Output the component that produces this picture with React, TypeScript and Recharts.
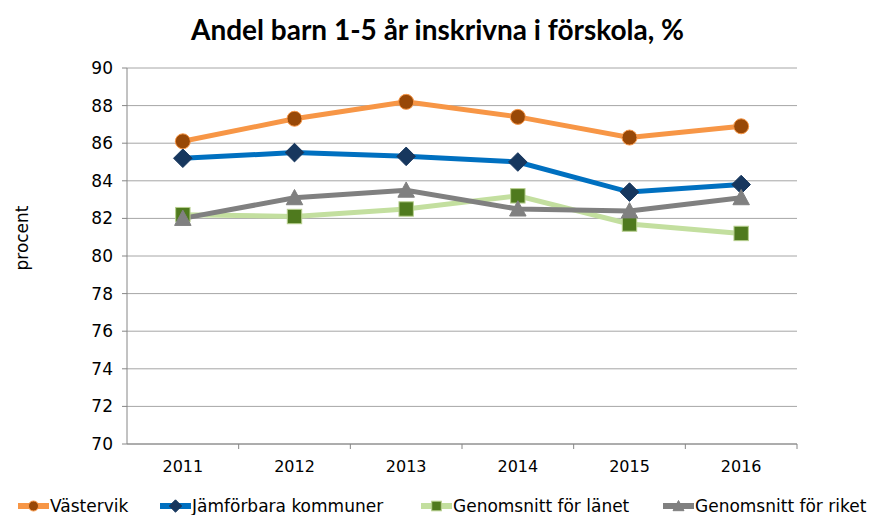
import React from 'react';
import { LineChart, Line, XAxis, YAxis, CartesianGrid, Legend, Label } from 'recharts';

const years = ['2011', '2012', '2013', '2014', '2015', '2016'];
const vastervik = [86.1, 87.3, 88.2, 87.4, 86.3, 86.9];
const jamforbara = [85.2, 85.5, 85.3, 85.0, 83.4, 83.8];
const lanet = [82.2, 82.1, 82.5, 83.2, 81.7, 81.2];
const riket = [82.0, 83.1, 83.5, 82.5, 82.4, 83.1];
const yTicks = [70, 72, 74, 76, 78, 80, 82, 84, 86, 88, 90];
const seriesNames = ['Västervik', 'Jämförbara kommuner', 'Genomsnitt för länet', 'Genomsnitt för riket'];
const titleText = 'Andel barn 1-5 år inskrivna i förskola, %';
const yLabelText = 'procent';

const W = 875;
const H = 515;
const M = { top: 68, right: 78, bottom: 13, left: 0 };
const Y_W = 127;
const PLOT_W = W - M.right - Y_W;
const BAND = PLOT_W / years.length;
const FONT = '"DejaVu Sans", Verdana, sans-serif';
const AXIS = '#868686';

const chartData = years.map((y, i) => ({
  year: y,
  v: vastervik[i],
  j: jamforbara[i],
  l: lanet[i],
  r: riket[i],
}));

type Shape = 'circle' | 'diamond' | 'square' | 'triangle';
const styles: { key: string; name: string; line: string; fill: string; mstroke: string; shape: Shape }[] = [
  { key: 'v', name: seriesNames[0], line: '#F79646', fill: '#984807', mstroke: '#F79646', shape: 'circle' },
  { key: 'j', name: seriesNames[1], line: '#0070C0', fill: '#17375E', mstroke: '#17375E', shape: 'diamond' },
  { key: 'l', name: seriesNames[2], line: '#C3DF9F', fill: '#4F7A1E', mstroke: '#B7CF8E', shape: 'square' },
  { key: 'r', name: seriesNames[3], line: '#808080', fill: '#808080', mstroke: '#808080', shape: 'triangle' },
];

function marker(shape: Shape, cx: number, cy: number, s: number, fill: string, stroke: string, key?: any) {
  if (shape === 'circle') return <circle key={key} cx={cx} cy={cy} r={s * 0.5} fill={fill} stroke={stroke} strokeWidth={1} />;
  if (shape === 'diamond') {
    const h = s * 0.62;
    return <polygon key={key} points={`${cx},${cy - h} ${cx + h},${cy} ${cx},${cy + h} ${cx - h},${cy}`} fill={fill} stroke={stroke} strokeWidth={1} />;
  }
  if (shape === 'square') {
    const h = s * 0.48;
    return <rect key={key} x={cx - h} y={cy - h} width={2 * h} height={2 * h} fill={fill} stroke={stroke} strokeWidth={1} />;
  }
  const h = s * 0.55;
  return <polygon key={key} points={`${cx},${cy - h} ${cx + h},${cy + h * 0.85} ${cx - h},${cy + h * 0.85}`} fill={fill} stroke={stroke} strokeWidth={1} />;
}

const makeDot = (st: typeof styles[number]) => (props: any) => {
  const { cx, cy, index } = props;
  if (cx == null || cy == null) return <g key={index} />;
  return marker(st.shape, cx, cy, 15, st.fill, st.mstroke, `${st.key}-${index}`);
};

const XTick = (props: any) => {
  const { x, y, payload } = props;
  return (
    <g>
      <line x1={x + BAND / 2} x2={x + BAND / 2} y1={y} y2={y + 5} stroke={AXIS} strokeWidth={1} />
      <text x={x} y={y} dy={28} textAnchor="middle" fontSize={16} fontFamily={FONT} fill="#000">
        {payload.value}
      </text>
    </g>
  );
};

const legendPos = [18, 160, 421, 663];

const LegendContent = () => (
  <div style={{ position: 'relative', width: W, height: 24, fontFamily: FONT, fontSize: 17, color: '#000' }}>
    {styles.map((st, i) => (
      <div key={st.key} style={{ position: 'absolute', left: legendPos[i], top: 1, height: 24, display: 'flex', alignItems: 'center', whiteSpace: 'nowrap' }}>
        <svg width={31} height={24} style={{ marginRight: 1 }}>
          <line x1={0} x2={31} y1={12} y2={12} stroke={st.line} strokeWidth={6} />
          {marker(st.shape, 15.5, 12, 10, st.fill, st.mstroke)}
        </svg>
        <span>{st.name}</span>
      </div>
    ))}
  </div>
);

export default function App() {
  return (
    <div style={{ position: 'absolute', left: 0, top: 0, width: W, height: H, background: '#fff' }}>
      <div style={{ position: 'absolute', left: 0, top: 12, width: W, textAlign: 'center', fontFamily: 'Lato, "Open Sans", sans-serif', fontWeight: 'bold', fontSize: 28, color: '#000', zIndex: 2 }}>
        {titleText}
      </div>
      <LineChart width={W} height={H} data={chartData} margin={M}>
        <CartesianGrid horizontal vertical={false} stroke="#A6A6A6" strokeWidth={1} />
        <XAxis
          dataKey="year"
          scale="band"
          tick={<XTick />}
          tickLine={false}
          tickSize={0}
          tickMargin={0}
          height={34}
          axisLine={{ stroke: AXIS }}
          interval={0}
        />
        <YAxis
          width={Y_W}
          domain={[70, 90]}
          ticks={yTicks}
          interval={0}
          tickSize={5}
          tickMargin={9}
          tickLine={{ stroke: AXIS }}
          axisLine={{ stroke: AXIS }}
          tick={{ fontSize: 17, fontFamily: FONT, fill: '#000' }}
        >
          <Label
            content={(p: any) => {
              const vb = p.viewBox || { x: 0, y: 68, height: 375 };
              const cx = 22;
              const cy = vb.y + vb.height / 2 - 18;
              return (
                <text x={cx} y={cy} transform={`rotate(-90 ${cx} ${cy})`} textAnchor="middle" dominantBaseline="central" fontSize={17} fontFamily={FONT} fill="#000">
                  {yLabelText}
                </text>
              );
            }}
          />
        </YAxis>
        <Legend content={<LegendContent />} verticalAlign="bottom" height={24} wrapperStyle={{ left: 0, bottom: -2, width: W }} />
        {styles.map((st) => (
          <Line
            key={st.key}
            type="linear"
            dataKey={st.key}
            name={st.name}
            stroke={st.line}
            strokeWidth={5}
            dot={makeDot(st)}
            activeDot={false}
            isAnimationActive={false}
          />
        ))}
      </LineChart>
    </div>
  );
}
